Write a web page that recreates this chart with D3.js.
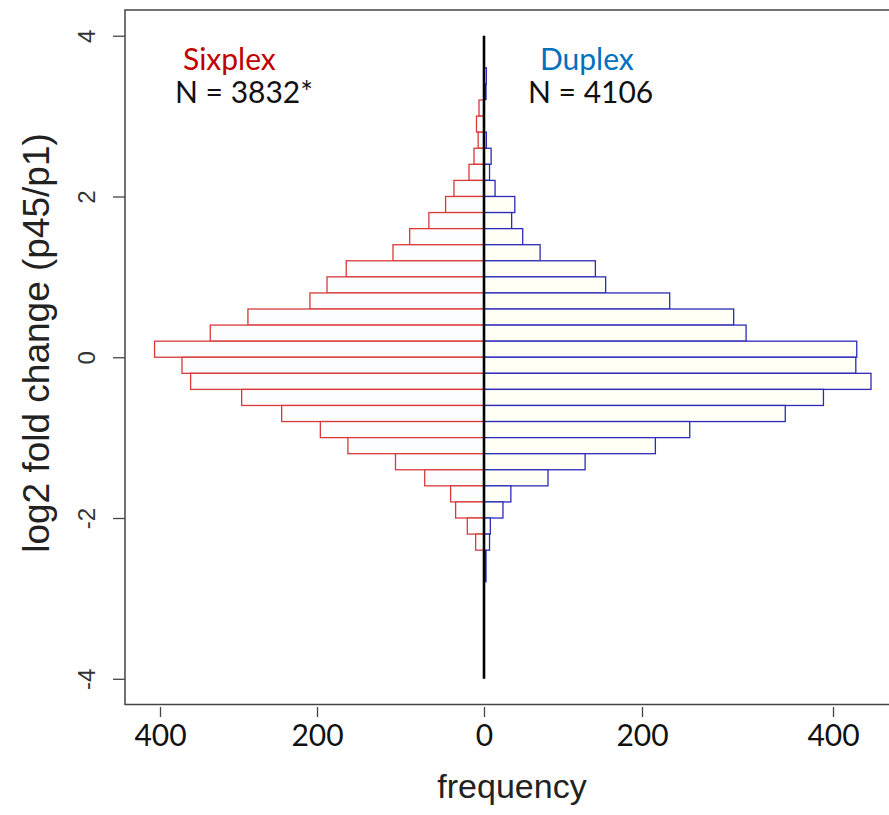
<!DOCTYPE html>
<html>
<head>
<meta charset="utf-8">
<script src="https://cdn.jsdelivr.net/npm/d3@7"></script>
<style>
  body { margin: 0; background: #fff; }
  svg { display: block; }
</style>
</head>
<body>
<div id="chart"></div>
<script>
// lower edge of each 0.2 wide bin, top to bottom
var bin_lo = [3.4, 3.2, 3.0, 2.8, 2.6, 2.4, 2.2, 2.0, 1.8, 1.6, 1.4, 1.2, 1.0, 0.8, 0.6, 0.4,
              0.2, 0.0, -0.2, -0.4, -0.6, -0.8, -1.0, -1.2, -1.4, -1.6, -1.8, -2.0, -2.2, -2.4, -2.6, -2.8];
var bin_w = 0.2;

var sixplex = [0, 0, 6, 9, 7, 12, 18, 36, 46, 66, 89, 109, 165, 188, 209, 288,
               336, 407, 372, 361, 296, 245, 196, 163, 106, 71, 40, 34, 20, 10, 0, 0];
var duplex  = [3, 1, 0, 0, 3, 9, 7, 14, 39, 35, 49, 71, 141, 154, 229, 296,
               309, 425, 424, 440, 390, 350, 250, 214, 128, 81, 34, 24, 8, 7, 1, 1];

var x_ticks = [-400, -200, 0, 200, 400];
var y_ticks = [-4, -2, 0, 2, 4];

var svg_w = 889,
    svg_h = 815;

var red_col = "#d83a3a",
    blue_col = "#2b2bb8";

// the printed frequency axis is not evenly spaced, so the scale follows the ticks
var x = d3.scaleLinear()
    .domain([-445, -400, -200, 0, 200, 400, 460])
    .range([125, 160, 317, 484, 642, 833, 890]);

var y = d3.scaleLinear()
    .domain([-4.32, 4.32])
    .range([704.5, 10]);

var svg = d3.select("#chart").append("svg")
    .attr("width", svg_w)
    .attr("height", svg_h)
    .style("background", "#fff");

var bins = bin_lo.map(function(b, i){
    return {lo: b, hi: b + bin_w, six: sixplex[i], dup: duplex[i]};
});

// sixplex to the left
svg.append("g").selectAll("rect")
    .data(bins.filter(function(d){ return d.six > 0; }))
    .join("rect")
    .attr("x", function(d){ return x(-d.six); })
    .attr("y", function(d){ return y(d.hi); })
    .attr("width", function(d){ return x(0) - x(-d.six); })
    .attr("height", function(d){ return y(d.lo) - y(d.hi); })
    .attr("fill", "#fcfdff")
    .attr("stroke", red_col)
    .attr("stroke-width", 1.3);

// duplex to the right
svg.append("g").selectAll("rect")
    .data(bins.filter(function(d){ return d.dup > 0; }))
    .join("rect")
    .attr("x", x(0))
    .attr("y", function(d){ return y(d.hi); })
    .attr("width", function(d){ return x(d.dup) - x(0); })
    .attr("height", function(d){ return y(d.lo) - y(d.hi); })
    .attr("fill", "#fffff6")
    .attr("stroke", blue_col)
    .attr("stroke-width", 1.3);

// centre line
svg.append("line")
    .attr("x1", x(0)).attr("x2", x(0))
    .attr("y1", y(4)).attr("y2", y(-4))
    .attr("stroke", "#000")
    .attr("stroke-width", 2.6);

// single counts show as a blue stroke beside the centre line
svg.append("g").selectAll("line")
    .data(bins.filter(function(d){ return d.dup == 1; }))
    .join("line")
    .attr("x1", x(0) + 1.8).attr("x2", x(0) + 1.8)
    .attr("y1", function(d){ return y(d.hi); })
    .attr("y2", function(d){ return y(d.lo); })
    .attr("stroke", "#1010b0")
    .attr("stroke-width", 1.6);

// frame
svg.append("path")
    .attr("d", "M" + x(460) + "," + y(4.32) + "H" + x(-445) + "V" + y(-4.32) + "H" + x(460))
    .attr("fill", "none")
    .attr("stroke", "#444")
    .attr("stroke-width", 1.5);

// y axis
var yAxis = svg.append("g")
    .attr("transform", "translate(" + x(-445) + ",0)")
    .call(d3.axisLeft(y).tickValues(y_ticks).tickSize(12).tickSizeOuter(0)
        .tickFormat(function(d){ return String(d); }));
yAxis.select(".domain").remove();
yAxis.selectAll(".tick line").attr("stroke", "#444").attr("stroke-width", 1.3);
yAxis.selectAll(".tick text")
    .attr("x", 0).attr("y", 0).attr("dy", 0)
    .attr("text-anchor", "middle")
    .attr("transform", "translate(-30,0) rotate(-90)")
    .attr("font-family", "'Liberation Sans', Arial, sans-serif")
    .attr("font-size", "24px")
    .attr("fill", "#333");

// x axis
var xAxis = svg.append("g")
    .attr("transform", "translate(0,707)")
    .call(d3.axisBottom(x).tickValues(x_ticks).tickSize(10).tickSizeOuter(0).tickPadding(8)
        .tickFormat(function(d){ return Math.abs(d); }));
xAxis.select(".domain").remove();
xAxis.selectAll(".tick line").attr("stroke", "#444").attr("stroke-width", 1.3);
xAxis.selectAll(".tick text")
    .attr("font-family", "Lato, 'Open Sans', sans-serif")
    .attr("font-size", "30px")
    .attr("fill", "#111");

// axis titles
svg.append("text")
    .attr("transform", "translate(49,343) rotate(-90)")
    .attr("text-anchor", "middle")
    .attr("font-family", "'Liberation Sans', Arial, sans-serif")
    .attr("font-size", "37px")
    .attr("fill", "#222")
    .text("log2 fold change (p45/p1)");

svg.append("text")
    .attr("x", 512)
    .attr("y", 798)
    .attr("text-anchor", "middle")
    .attr("font-family", "'Liberation Sans', Arial, sans-serif")
    .attr("font-size", "34px")
    .attr("fill", "#222")
    .text("frequency");

// labels
var lab_font = "Lato, 'Open Sans', sans-serif";

svg.append("text")
    .attr("x", 183).attr("y", 70)
    .attr("font-family", lab_font).attr("font-size", "30px")
    .attr("fill", "#c00000")
    .text("Sixplex");
svg.append("text")
    .attr("x", 175).attr("y", 103)
    .attr("font-family", lab_font).attr("font-size", "30px")
    .attr("fill", "#111")
    .text("N = 3832*");

svg.append("text")
    .attr("x", 540).attr("y", 70)
    .attr("font-family", lab_font).attr("font-size", "30px")
    .attr("fill", "#0070c0")
    .text("Duplex");
svg.append("text")
    .attr("x", 528).attr("y", 103)
    .attr("font-family", lab_font).attr("font-size", "30px")
    .attr("fill", "#111")
    .text("N = 4106");
</script>
</body>
</html>
